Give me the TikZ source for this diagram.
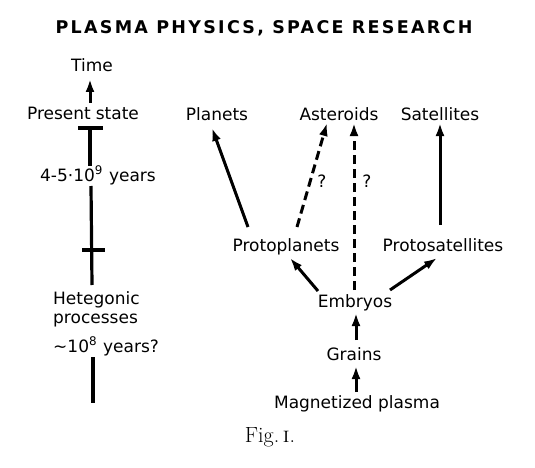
\documentclass[tikz,border=0pt]{standalone}
\usepackage{fontspec}
\newfontfamily\dv{DejaVu Sans}
\usetikzlibrary{arrows.meta}
\begin{document}
\begin{tikzpicture}[x=1pt,y=-1pt,
  lbl/.style={font=\dv\fontsize{17}{19}\selectfont, inner sep=0pt, text height=11pt, text depth=3pt},
  arr/.style={line width=3pt, -{Latex[length=13pt,width=9pt]}},
  dsh/.style={arr, dash pattern=on 9pt off 5pt},
  bar/.style={line width=3.2pt}]
\useasboundingbox (0,0) rectangle (535,468);
\fill[white] (0,0) rectangle (535,468);

% title
\node[inner sep=0pt, font=\dv\bfseries\fontsize{17.5}{20}\selectfont\addfontfeature{LetterSpace=13}] (title) at (264,28) {PLASMA PHYSICS, SPACE RESEARCH};

% time line
\node[lbl] (time) at (92,68) {Time};
\node[lbl] (present) at (83,116) {Present\hspace{5pt}state};
\node[lbl] (years) at (98,177) {4-5·10\textsuperscript{9}\hspace{6pt}years};
\node[lbl, anchor=west] (het1) at (53,300) {Hetegonic};
\node[lbl, anchor=west] (het2) at (53,319) {processes};
\node[lbl, anchor=west] (het3) at (53,348) {\textasciitilde10\textsuperscript{8}\hspace{6pt}years?};

\coordinate (t1) at (90,128);
\coordinate (t1a) at (90,166);
\coordinate (t2a) at (91,186);
\coordinate (t2) at (92,250);
\coordinate (t2b) at (92,285);
\coordinate (t3a) at (93,357);
\coordinate (t3b) at (93,403);

\draw[arr] ([shift={(7,-13)}]present.center) -- ([shift={(-2,11)}]time.center);
\draw[bar] (t1) ++(-12,0) -- ++(25,0);
\draw[bar] (t1) -- (t1a);
\draw[bar] (t2a) -- (t2b);
\draw[bar] (t2) ++(-10,0) -- ++(23,0);
\draw[bar] (t3a) -- (t3b);

% right part
\node[lbl] (planets) at (217,117) {Planets};
\node[lbl] (asteroids) at (339,117) {Asteroids};
\node[lbl] (satellites) at (440,117) {Satellites};
\node[lbl] (protoplanets) at (286,247) {Protoplanets};
\node[lbl] (protosatellites) at (443,247) {Protosatellites};
\node[lbl] (embryos) at (355,303) {Embryos};
\node[lbl] (grains) at (354,356) {Grains};
\node[lbl] (plasma) at (357,404) {Magnetized plasma};
\node[lbl] (q1) at (322,183) {?};
\node[lbl] (q2) at (367,183) {?};

\draw[arr] ([shift={(-38,-20)}]protoplanets.center) -- ([shift={(-5,11)}]planets.center);
\draw[dsh] ([shift={(11,-20)}]protoplanets.center) -- ([shift={(-12,6)}]asteroids.center);
\draw[dsh] ([shift={(-1,-13)}]embryos.center) -- ([shift={(15,6)}]asteroids.center);
\draw[arr] ([shift={(-3,-22)}]protosatellites.center) -- ([shift={(0,6)}]satellites.center);
\draw[arr] ([shift={(-37,-12)}]embryos.center) -- ([shift={(4,11)}]protoplanets.center);
\draw[arr] ([shift={(35,-13)}]embryos.center) -- ([shift={(-6,11)}]protosatellites.center);
\draw[arr] ([shift={(2,-16)}]grains.center) -- ([shift={(1,10)}]embryos.center);
\draw[arr] ([shift={(-1,-12)}]plasma.center) -- ([shift={(2,10)}]grains.center);

\node[inner sep=0pt, font=\fontsize{22}{24}\selectfont] (fig) at (270,437) {Fig.\,\textsc{i}.};
\end{tikzpicture}
\end{document}
